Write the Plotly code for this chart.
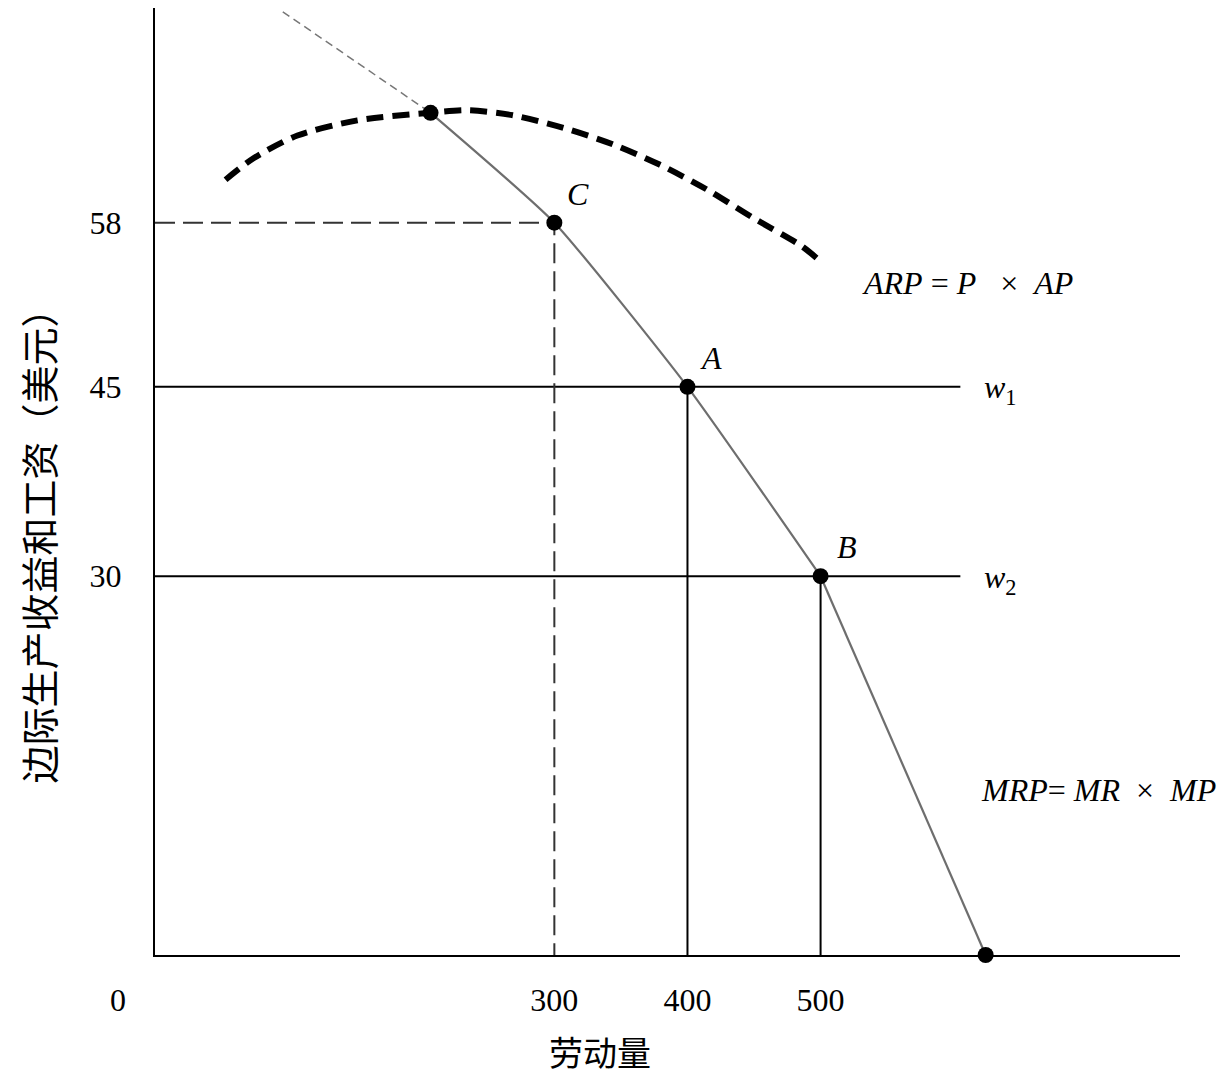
import plotly.graph_objects as go

# ---- data ----
mrp_top_x = [96, 207]                 # thin dashed upper part of MRP
mrp_top_y = [74.7, 66.7]
mrp_x = [207, 300, 400, 500]          # solid MRP curve, upper part
mrp_y = [66.7, 58, 45, 30]
mrp_low_x = [500, 624]                # solid MRP curve, lower part
mrp_low_y = [30, 0]
arp_x = [53, 74, 107, 152, 207, 235, 269, 307, 344, 379, 415, 449, 485, 497]
arp_y = [61.4, 63.1, 64.9, 66.1, 66.7, 66.9, 66.5, 65.5, 64.2, 62.6, 60.6, 58.4, 56.2, 55.2]
point_x = [207, 300, 400, 500, 624]
point_y = [66.7, 58, 45, 30, 0]
wages = [45, 30]
wage_labels = ["w1", "w2"]
wage_qty = [400, 500]
c_qty, c_val = 300, 58
y_ticks = [58, 45, 30]
x_ticks = [300, 400, 500]
wage_line_end = 605

SERIF = "Liberation Serif, Times New Roman, serif"
CJK = "Noto Sans CJK SC"

fig = go.Figure()

# MRP upper thin dashed part
fig.add_trace(go.Scatter(x=mrp_top_x, y=mrp_top_y, mode="lines",
                         line=dict(color="#777777", width=1.5, dash="8px,5px"),
                         showlegend=False, hoverinfo="skip"))
# MRP solid
fig.add_trace(go.Scatter(x=mrp_x, y=mrp_y, mode="lines",
                         line=dict(color="#6e6e6e", width=2.2, shape="spline", smoothing=0.5),
                         showlegend=False, hoverinfo="skip", cliponaxis=False))
fig.add_trace(go.Scatter(x=mrp_low_x, y=mrp_low_y, mode="lines",
                         line=dict(color="#6e6e6e", width=2.2),
                         showlegend=False, hoverinfo="skip", cliponaxis=False))
# ARP thick dashed
fig.add_trace(go.Scatter(x=arp_x, y=arp_y, mode="lines",
                         line=dict(color="black", width=6, dash="17px,9px", shape="spline", smoothing=0.8),
                         showlegend=False, hoverinfo="skip"))

# wage lines
for w in wages:
    fig.add_trace(go.Scatter(x=[0, wage_line_end], y=[w, w], mode="lines",
                             line=dict(color="black", width=2),
                             showlegend=False, hoverinfo="skip"))
# verticals from A and B
for q, w in zip(wage_qty, wages):
    fig.add_trace(go.Scatter(x=[q, q], y=[w, 0], mode="lines",
                             line=dict(color="black", width=2),
                             showlegend=False, hoverinfo="skip"))
# dashed lines from C
fig.add_trace(go.Scatter(x=[0, c_qty, c_qty], y=[c_val, c_val, 0], mode="lines",
                         line=dict(color="#333333", width=2, dash="20px,8px"),
                         showlegend=False, hoverinfo="skip"))

# points
fig.add_trace(go.Scatter(x=point_x, y=point_y, mode="markers",
                         marker=dict(color="black", size=16),
                         showlegend=False, hoverinfo="skip", cliponaxis=False))

lab_font = dict(family=SERIF, size=32, color="black")
annos = [
    dict(x=c_qty, y=c_val, text="<i>C</i>", xshift=24, yshift=29),
    dict(x=wage_qty[0], y=wages[0], text="<i>A</i>", xshift=24, yshift=29),
    dict(x=wage_qty[1], y=wages[1], text="<i>B</i>", xshift=26, yshift=29),
]
for a in annos:
    fig.add_annotation(x=a["x"], y=a["y"], text=a["text"], xshift=a["xshift"], yshift=a["yshift"],
                       showarrow=False, font=lab_font)
for w, lab in zip(wages, wage_labels):
    fig.add_annotation(x=wage_line_end, y=w, text="<i>w</i><sub>" + lab[1] + "</sub>",
                       xanchor="left", yanchor="middle", xshift=22, yshift=-3,
                       showarrow=False, font=lab_font)
fig.add_annotation(x=arp_x[-1], y=arp_y[-1], text="<i>ARP</i> = <i>P</i>   ×  <i>AP</i>",
                   xanchor="left", yanchor="middle", xshift=43, yshift=-25,
                   showarrow=False, font=lab_font)
fig.add_annotation(x=mrp_low_x[-1], y=mrp_low_y[-1], text="<i>MRP</i>= <i>MR</i>  ×  <i>MP</i>",
                   xanchor="left", yanchor="middle", xshift=-7, yshift=165,
                   showarrow=False, font=lab_font)
# origin label
fig.add_annotation(x=-0.036, y=-0.0475, xref="paper", yref="paper", text="0",
                   xanchor="center", yanchor="middle",
                   showarrow=False, font=dict(family=SERIF, size=32, color="black"))
# axis titles
fig.add_annotation(x=-0.115, y=0.442, xref="paper", yref="paper",
                   xanchor="center", yanchor="middle",
                   text="边际生产收益和工资（美元）", textangle=-90, showarrow=False,
                   font=dict(family=CJK, size=38, color="black"))
fig.add_annotation(x=0.434, y=-0.102, xref="paper", yref="paper",
                   xanchor="center", yanchor="middle",
                   text="劳动量", showarrow=False,
                   font=dict(family=CJK, size=34, color="black"))

fig.update_xaxes(range=[0, 770], showgrid=False, zeroline=False, showline=True,
                 linecolor="black", linewidth=2, tickvals=x_ticks,
                 ticktext=[str(v) for v in x_ticks], ticks="",
                 tickfont=dict(family=SERIF, size=32, color="black"),
                 ticklabelstandoff=16)
fig.update_yaxes(range=[0, 75], showgrid=False, zeroline=False, showline=True,
                 linecolor="black", linewidth=2, tickvals=y_ticks,
                 ticktext=[str(v) for v in y_ticks], ticks="",
                 tickfont=dict(family=SERIF, size=32, color="black"),
                 ticklabelstandoff=25)
fig.update_layout(width=1230, height=1077, margin=dict(l=147, r=58, t=0, b=130),
                  plot_bgcolor="white", paper_bgcolor="white", showlegend=False)

fig.write_html("out.html")
